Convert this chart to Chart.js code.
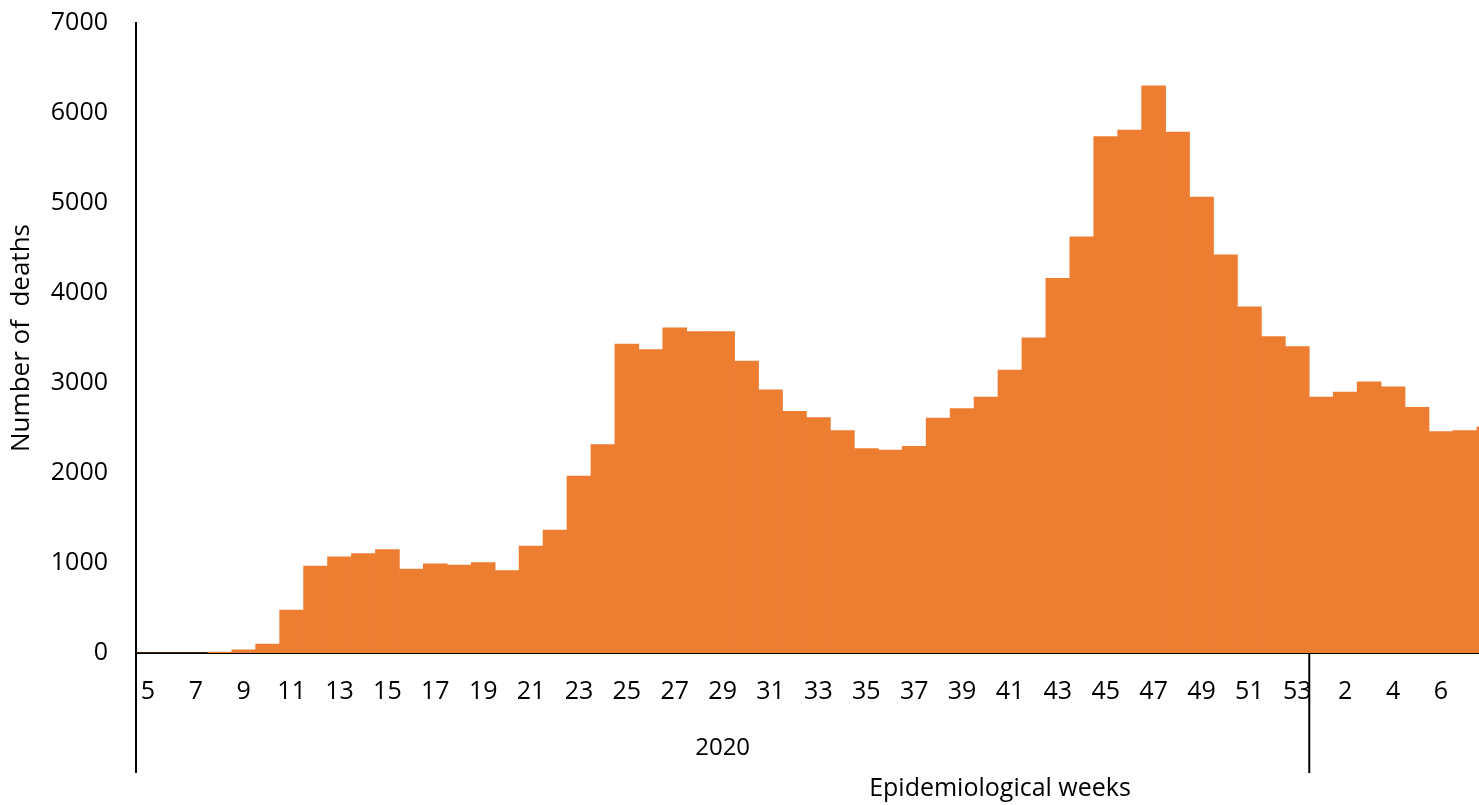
<!DOCTYPE html>
<html>
<head>
<meta charset="utf-8">
<script src="https://cdn.jsdelivr.net/npm/chart.js@4"></script>
<style>
  body { margin: 0; background: #fff; }
  #wrap { width: 1479px; height: 805px; overflow: hidden; position: relative; }
  #myChart { position: absolute; left: 0; top: -20px; }
</style>
</head>
<body>
<div id="wrap"><canvas id="myChart" width="1520" height="825"></canvas></div>
<script>
  // epidemiological weeks
  const weeks2020 = ['5','6','7','8','9','10','11','12','13','14','15','16','17','18','19','20',
    '21','22','23','24','25','26','27','28','29','30','31','32','33','34','35','36','37',
    '38','39','40','41','42','43','44','45','46','47','48','49','50','51','52','53'];
  const weeks2021 = ['1','2','3','4','5','6','7','8'];

  // number of deaths per week
  const deaths2020 = [0, 0, 0, 10, 35, 100, 477, 965, 1068, 1106, 1150, 932, 991, 976, 1006, 917,
    1187, 1365, 1967, 2315, 3432, 3372, 3613, 3572, 3572, 3243, 2925, 2685, 2615, 2470, 2271, 2256, 2296,
    2611, 2715, 2844, 3143, 3502, 4164, 4623, 5739, 5810, 6301, 5788, 5066, 4423, 3846, 3517, 3406];
  const deaths2021 = [2844, 2899, 3014, 2958, 2729, 2459, 2470, 2510];

  const yTicks = [0, 1000, 2000, 3000, 4000, 5000, 6000, 7000];

  const fontFamily = 'Open Sans';

  // group labels under the axis (2020 / 2021) and the axis title
  const groupAxis = {
    id: 'groupAxis',
    afterDraw(chart) {
      const c = chart.ctx;
      const x = chart.scales.x;
      const area = chart.chartArea;
      const half = (x.getPixelForValue(1) - x.getPixelForValue(0)) / 2;
      const split = x.getPixelForValue(weeks2020.length - 1) + half;
      const bottom = area.bottom + 120;
      c.save();
      c.strokeStyle = '#000';
      c.lineWidth = 2;
      c.beginPath();
      c.moveTo(area.left, area.bottom);
      c.lineTo(area.left, bottom);
      c.moveTo(split, area.bottom);
      c.lineTo(split, bottom);
      c.stroke();
      c.fillStyle = '#000';
      c.textAlign = 'center';
      c.textBaseline = 'middle';
      c.font = '24px ' + fontFamily;
      c.fillText('2020', (area.left + split) / 2, area.bottom + 95);
      c.font = '25px ' + fontFamily;
      c.fillText('Epidemiological weeks', 1000, area.bottom + 136);
      c.restore();
    }
  };

  const ctx = document.getElementById('myChart');
  new Chart(ctx, {
    type: 'bar',
    data: {
      labels: weeks2020.concat(weeks2021),
      datasets: [{
        label: 'Number of deaths',
        data: deaths2020.concat(deaths2021),
        backgroundColor: '#ED7D31',
        borderWidth: 0,
        categoryPercentage: 1.0,
        barPercentage: 1.0
      }]
    },
    options: {
      responsive: false,
      animation: false,
      layout: { padding: { top: 2, right: 0, left: 0, bottom: 0 } },
      plugins: {
        legend: { display: false },
        tooltip: { enabled: false }
      },
      scales: {
        x: {
          grid: { display: false, drawTicks: false },
          border: { display: true, color: '#000', width: 2 },
          afterFit: function(scale) { scale.height = 152; },
          ticks: {
            autoSkip: false,
            maxRotation: 0,
            padding: 24,
            color: '#000',
            font: { size: 25, family: fontFamily },
            callback: function(val, i) {
              return i % 2 === 0 ? this.getLabelForValue(val) : '';
            }
          }
        },
        y: {
          min: 0,
          max: 7000,
          afterFit: function(scale) { scale.width = 136; },
          afterBuildTicks: function(scale) {
            scale.ticks = yTicks.map(v => ({ value: v }));
          },
          grid: { display: false, drawTicks: false },
          border: { display: true, color: '#000', width: 2 },
          title: {
            display: true,
            text: 'Number of  deaths',
            color: '#000',
            padding: { top: 6, bottom: 0 },
            font: { size: 26, family: fontFamily }
          },
          ticks: {
            padding: 28,
            color: '#000',
            font: { size: 25, family: fontFamily },
            callback: function(v) { return String(v); }
          }
        }
      }
    },
    plugins: [groupAxis]
  });
</script>
</body>
</html>
